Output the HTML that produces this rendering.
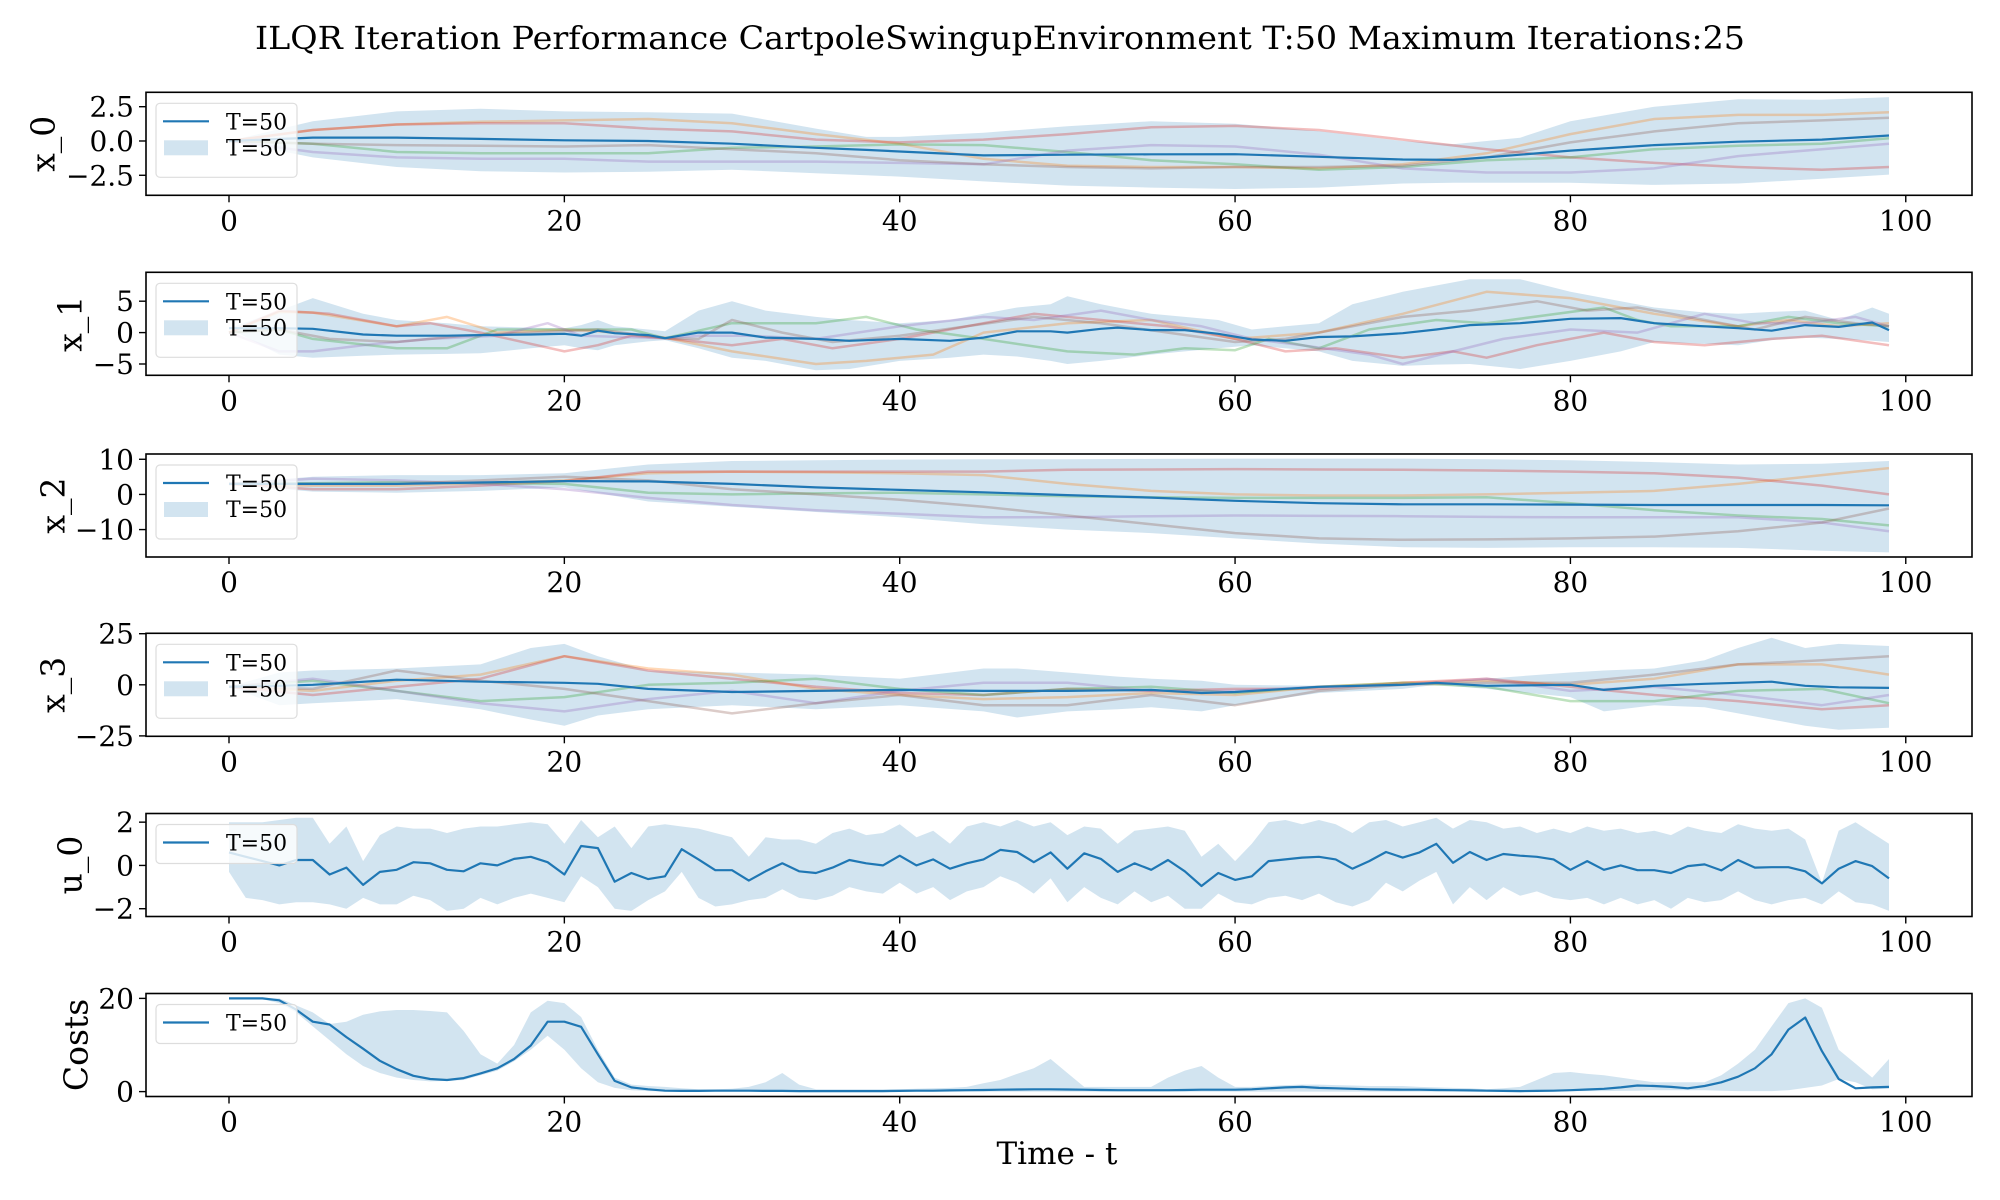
<!DOCTYPE html>
<html><head><meta charset="utf-8"><style>
html,body{margin:0;padding:0;background:#fff;}
svg{display:block;font-family:"DejaVu Serif","Liberation Serif",serif;}
</style></head><body>
<svg id="fig" width="2000" height="1200" viewBox="0 0 2000 1200" xmlns="http://www.w3.org/2000/svg">
<rect width="2000" height="1200" fill="#fff"/>
<text x="1000" y="49" text-anchor="middle" font-size="32" textLength="1490" lengthAdjust="spacingAndGlyphs">ILQR Iteration Performance CartpoleSwingupEnvironment T:50 Maximum Iterations:25</text>
<text x="1057" y="1164" text-anchor="middle" font-size="31">Time - t</text>
<g id="plots"></g>
</svg>
<script>
// ---------- data ----------
const X_TICKS = [0,20,40,60,80,100];

// x_0
const X0_T = [0,5,10,15,20,25,30,35,38,40,45,50,55,60,65,70,73,75,77,80,85,90,95,99];
const X0_MEAN = [0,0.25,0.25,0.15,0.05,0,-0.2,-0.5,-0.65,-0.77,-1.05,-1.0,-0.97,-0.96,-1.15,-1.35,-1.38,-1.2,-1.0,-0.7,-0.3,-0.05,0.1,0.4];
const X0_UP = [0,1.44,2.16,2.35,2.16,2.1,2.0,0.9,0.3,0.3,0.6,1.08,1.44,1.25,0.72,0,-0.24,0,0.24,1.44,2.5,3.05,3.0,3.2];
const X0_LO = [0,-1.2,-1.9,-2.2,-2.3,-2.25,-2.1,-2.35,-2.5,-2.6,-2.95,-3.25,-3.4,-3.5,-3.4,-3.1,-3.05,-3.05,-3.05,-3.05,-3.2,-3.1,-2.75,-2.45];
const X0_TICKS = [2.5,0,-2.5];
const X0_TF = [0,5,10,15,20,25,30,35,40,45,50,55,60,65,70,75,80,85,90,95,99];
const X0_F1 = [0,0.8,1.2,1.4,1.5,1.6,1.3,0.5,-0.2,-1.3,-1.8,-1.9,-1.9,-2.0,-1.7,-0.9,0.5,1.6,1.9,1.9,2.1];
const X0_F2 = [0,0.8,1.2,1.3,1.3,0.9,0.7,0.1,-0.1,0.1,0.5,1.0,1.1,0.8,0.1,-0.6,-1.2,-1.6,-1.9,-2.1,-1.9];
const X0_F3 = [0,-0.2,-0.8,-0.9,-0.9,-0.9,-0.5,-0.4,-0.25,-0.3,-0.8,-1.4,-1.7,-2.1,-1.9,-1.4,-1.2,-0.6,-0.35,-0.2,0.2];
const X0_F4 = [0,-0.8,-1.2,-1.3,-1.3,-1.5,-1.5,-1.5,-1.6,-1.7,-0.7,-0.3,-0.4,-1.0,-2.0,-2.3,-2.3,-2.0,-1.1,-0.6,-0.2];
const X0_F5 = [0,-0.2,-0.3,-0.35,-0.4,-0.3,-0.6,-0.9,-1.4,-1.7,-1.9,-2.0,-1.9,-1.9,-1.8,-1.2,-0.1,0.7,1.3,1.5,1.7];

// x_1
const X1_T = [0,3,5,8,10,13,15,18,20,21,22,23,25,26,28,30,32,35,37,40,43,45,47,49,50,52,53,55,57,59,61,63,65,67,70,72,74,77,80,83,85,88,90,92,94,96,98,99];
const X1_MEAN = [0.7,0.7,0.6,-0.3,-0.5,-0.5,-0.4,-0.3,-0.2,-0.5,0.3,-0.1,-0.4,-0.9,0,0,-0.8,-1.0,-1.3,-1.0,-1.3,-0.8,0.2,0.2,0,0.6,0.8,0.4,0.4,-0.2,-1.1,-1.3,-0.7,-0.6,-0.1,0.5,1.2,1.5,2.2,2.3,1.5,1.0,0.7,0.3,1.2,0.9,1.6,0.4];
const X1_UP = [0.7,3.5,5.5,3.0,2.0,1.5,1.0,0.8,0.7,1.2,2.0,1.0,0.5,0.2,3.5,5.0,3.5,2.5,2.0,1.5,2.0,3.0,4.0,4.5,5.8,4.5,4.0,3.0,2.5,2.0,0.5,1.0,1.5,4.5,6.5,7.5,8.5,8.5,6.5,5.0,4.0,3.2,3.0,3.3,3.5,2.0,4.0,3.0];
const X1_LO = [0.7,-3.5,-4.0,-3.7,-3.5,-3.4,-3.3,-2.5,-2.0,-2.5,-2.8,-2.0,-1.4,-1.2,-2.5,-4.0,-4.5,-6.0,-5.8,-4.5,-4.0,-3.5,-3.8,-4.5,-5.0,-4.5,-4.2,-3.5,-3.0,-2.5,-2.0,-2.5,-3.0,-4.5,-5.3,-5.1,-5.0,-5.8,-4.5,-3.0,-1.5,-1.8,-2.0,-1.2,-0.8,-1.0,-1.3,-1.5];
const X1_TICKS = [5,0,-5];
const X1_TF1 = [0,3,5,10,13,16,20,22,26,30,35,38,42,45,50,55,60,65,70,75,80,85,90,93,96,99];
const X1_F1 = [0,3.3,3.2,1.0,2.5,0,0.5,0.2,-0.8,-3.0,-5.0,-4.5,-3.5,0,1.5,2.0,-1.0,0,3.0,6.5,5.5,3.0,1.0,2.0,1.0,1.5];
const X1_TF2 = [0,3,6,10,12,15,20,22,24,26,30,33,36,40,45,48,52,56,60,63,66,70,73,75,78,82,85,88,92,95,99];
const X1_F2 = [0,3.5,3.0,1.0,1.5,0,-3.0,-2.0,-0.5,-0.9,-2.0,-1.0,-2.5,-1.0,1.5,3.0,2.0,1.0,-1.0,-3.0,-2.5,-4.0,-3.0,-4.0,-2.0,0,-1.5,-2.0,-1.0,-0.5,-2.0];
const X1_TF3 = [0,3,5,10,13,16,20,24,26,30,35,38,41,45,50,54,57,60,62,65,68,72,75,82,84,86,90,93,96,99];
const X1_F3 = [0,0.5,-1.0,-2.5,-2.5,0.5,0.5,0.5,-0.9,1.5,1.5,2.5,0.5,-1.0,-3.0,-3.5,-2.5,-2.8,-1.0,-2.5,0.5,2.0,1.5,4.0,2.0,1.0,1.0,2.5,1.5,1.0];
const X1_TF4 = [0,3,5,8,12,16,19,21,26,28,31,35,40,45,48,52,55,58,61,64,68,70,73,76,80,84,88,91,94,97,99];
const X1_F4 = [0,-3.0,-3.0,-2.0,-1.0,-0.5,1.5,-0.5,-0.9,-0.5,-0.5,-1.0,1.0,2.5,2.0,3.5,2.0,1.0,-1.0,-2.0,-3.5,-5.0,-3.0,-1.0,0.5,0,3.0,1.5,1.5,2.5,1.0];
const X1_TF5 = [0,3,6,10,14,18,22,26,28,30,33,36,40,44,48,52,56,60,63,67,70,74,78,81,84,88,91,94,97,99];
const X1_F5 = [0,0.5,-1.0,-1.5,-0.5,0,0.5,-0.9,-1.0,2.0,0,-1.5,-0.5,1.0,2.5,1.5,0,-1.5,-1.0,1.0,2.5,3.5,5.0,3.5,4.0,2.0,0.5,2.5,1.5,1.0];

// x_2
const X2_T = [0,5,10,15,20,25,30,35,40,45,50,55,60,65,70,75,80,85,90,95,99];
const X2_MEAN = [3,3,3.0,3.4,3.8,3.7,3.0,2.0,1.3,0.6,-0.2,-0.9,-1.8,-2.5,-2.8,-2.8,-2.9,-3.0,-3.0,-3.0,-3.1];
const X2_UP = [3.2,5.0,5.5,5.5,6.0,8.5,9.5,9.7,9.9,10.0,10.0,10.1,10.2,10.2,10.2,10.0,9.7,9.2,8.5,8.7,9.5];
const X2_LO = [2.8,0.8,0.5,1.0,2.0,-2.0,-3.5,-5.0,-6.5,-8.5,-10,-11,-12.5,-14,-15,-15.2,-15,-15,-15.2,-16,-16.5];
const X2_TICKS = [10,0,-10];
const X2_F1 = [3,2.5,2.5,3.2,4,6.0,6.5,6.3,6.0,5.5,3.0,1.0,0,-0.3,-0.3,0,0.5,1.0,3.0,5.5,7.5];
const X2_F2 = [3,1.5,1.5,2.5,3.8,6.5,6.5,6.5,6.5,6.5,7.0,7.1,7.2,7.1,7.0,6.8,6.5,6.0,4.8,2.5,0];
const X2_F3 = [3,3.2,3.5,3.2,3.0,0.5,0,0.3,0.5,0,-0.5,-0.8,-1.0,-1.0,-1.0,-0.8,-2.5,-4.5,-6.0,-7.0,-8.8];
const X2_F4 = [3,4.5,4.0,3.0,1.5,-1.0,-3.0,-4.5,-5.5,-6.5,-6.5,-6.2,-6.0,-6.1,-6.2,-6.4,-6.5,-6.5,-6.5,-8.0,-10.5];
const X2_F5 = [3,3,3.0,4.0,5.0,4.0,1.5,0,-1.5,-3.5,-6.0,-8.5,-11.0,-12.5,-12.9,-12.8,-12.5,-12.0,-10.5,-8.0,-4.0];

// x_3
const X3_T = [0,3,5,10,15,18,20,22,25,30,35,40,45,47,50,53,55,58,60,65,70,72,75,80,82,85,88,90,92,94,96,99];
const X3_MEAN = [-1,-0.5,0,2.5,1.5,1.2,1.0,0.5,-2,-3.5,-3,-2.5,-3,-3,-3.0,-2.7,-2.5,-4.0,-3.5,-1,0,1,-0.5,0,-2.5,-0.5,0.5,1.0,1.5,-0.5,-1.2,-1.5];
const X3_UP = [-1,6,7,8,10,18,20,14,7,6,5,3,8,8,6,4,3,2,0,-0.5,0.5,1,3,6,7,8,12,18,23,18,20,19];
const X3_LO = [-1,-10,-9,-7,-12,-17,-20,-15,-12,-10,-12,-10,-13,-16,-13,-12,-11,-13,-10,-4,-2,0,-2,-6,-13,-10,-11,-14,-17,-20,-22,-21];
const X3_TICKS = [25,0,-25];
const X3_TF = [0,5,10,15,20,25,30,35,40,45,50,55,60,65,70,75,80,85,90,95,99];
const X3_F1 = [-1,-3,2,5,14,8,5,-2,-5,-7,-6,-4,-5,-1,1,2,0,3,10,10,5];
const X3_F2 = [-1,-5,-1,3,14,7,3,-1,-4,-5,-2,-3,-2,-2,1,3,-1,-5,-8,-12,-10];
const X3_F3 = [-1,2,-3,-8,-6,0,1,3,-2,-5,-2,-1,-4,-1,1,-1,-8,-8,-3,-2,-9];
const X3_F4 = [-1,3,-3,-9,-13,-7,-3,-9,-3,1,1,-3,-3,-1,0,3,-3,-1,-5,-10,-5];
const X3_F5 = [-1,-2,7,2,-2,-8,-14,-9,-5,-10,-10,-5,-10,-3,0,1,1,5,10,12,14];

// u_0
const U0_MEAN = [0.6,0.4,0.2,0.0,0.25,0.25,-0.42,-0.1,-0.9,-0.3,-0.2,0.15,0.1,-0.2,-0.27,0.1,0,0.3,0.4,0.15,-0.42,0.9,0.8,-0.75,-0.35,-0.63,-0.5,0.75,0.28,-0.22,-0.22,-0.7,-0.27,0.1,-0.27,-0.35,-0.1,0.25,0.1,0,0.45,0,0.28,-0.15,0.1,0.28,0.72,0.62,0.15,0.6,-0.15,0.56,0.3,-0.3,0.1,-0.2,0.25,-0.27,-0.95,-0.35,-0.67,-0.5,0.2,0.28,0.36,0.4,0.28,-0.15,0.2,0.62,0.36,0.6,1.0,0.12,0.62,0.25,0.53,0.45,0.4,0.28,-0.2,0.2,-0.2,0,-0.22,-0.22,-0.35,-0.03,0.05,-0.23,0.25,-0.1,-0.08,-0.08,-0.27,-0.83,-0.15,0.2,-0.03,-0.6];
const U0_UP = [2.0,2.0,2.0,2.1,2.2,2.2,1.0,1.8,0.2,1.4,1.8,1.7,1.7,1.5,1.7,1.8,1.8,1.9,2.0,1.9,1.0,2.1,1.3,1.8,0.8,1.8,1.9,1.8,1.7,1.5,1.3,0.4,1.3,1.2,1.2,1.0,1.5,1.7,1.4,1.5,1.9,1.3,1.6,1.0,1.8,2.0,1.8,2.1,1.8,2.0,1.4,1.8,1.7,1.0,1.6,1.7,1.8,1.6,0.4,1.0,0.2,1.0,2.0,2.1,1.9,2.1,1.9,1.5,2.0,2.1,1.8,2.0,2.2,1.7,2.1,2.0,1.7,1.8,1.5,1.7,1.5,1.8,1.6,1.7,1.5,1.6,1.4,1.8,1.6,1.5,1.9,1.7,1.6,1.7,1.2,-0.8,1.6,2.0,1.5,1.0];
const U0_LO = [-0.3,-1.5,-1.6,-1.8,-1.7,-1.7,-1.8,-2.0,-1.5,-1.8,-1.8,-1.4,-1.6,-2.1,-2.0,-1.5,-1.8,-1.5,-1.3,-1.5,-1.7,-0.5,-1.0,-2.0,-2.1,-1.6,-1.2,-0.3,-1.5,-1.9,-1.8,-1.6,-1.5,-1.1,-1.5,-1.6,-1.4,-1.0,-1.2,-1.3,-0.8,-1.3,-1.0,-1.6,-1.2,-1.0,-0.5,-0.8,-1.3,-0.6,-1.7,-1.0,-1.5,-1.8,-1.2,-1.7,-1.4,-2.0,-2.0,-1.3,-1.7,-1.8,-1.5,-1.4,-1.6,-1.3,-1.7,-1.9,-1.6,-0.8,-1.2,-0.7,-0.3,-1.8,-1.0,-1.6,-1.0,-1.4,-1.2,-1.5,-1.6,-1.5,-1.8,-1.5,-1.8,-1.6,-2.0,-1.5,-1.7,-1.6,-1.2,-1.6,-1.8,-1.6,-1.5,-1.8,-1.2,-1.7,-1.8,-2.1];
const U0_TICKS = [2,0,-2];

// costs
const C_MEAN = [20,20,20,19.6,17.6,15,14.4,11.7,9.2,6.6,4.8,3.4,2.7,2.5,2.9,3.9,5,7,9.9,15,15,13.9,8,2.3,0.9,0.5,0.2,0.15,0.15,0.2,0.2,0.2,0.15,0.15,0.1,0.1,0.1,0.1,0.1,0.1,0.15,0.2,0.2,0.25,0.3,0.35,0.4,0.45,0.5,0.5,0.45,0.4,0.35,0.3,0.3,0.3,0.3,0.35,0.4,0.4,0.4,0.5,0.7,0.9,1.0,0.8,0.7,0.6,0.5,0.45,0.4,0.4,0.35,0.3,0.25,0.2,0.15,0.1,0.15,0.2,0.3,0.45,0.6,0.9,1.3,1.2,1.0,0.7,1.2,2.0,3.2,5.0,8.0,13.3,15.9,8.7,2.7,0.7,0.9,1.0];
const C_UP = [20,20,20,20,18.5,17,14.5,15,16.5,17.2,17.5,17.5,17.3,17,13,8,6,10,17,19.5,19,16,9,3,1.5,1.2,1.0,0.7,0.5,0.5,0.6,1.0,2.0,4.0,1.5,0.5,0.5,0.5,0.5,0.5,0.5,0.6,0.7,0.8,1.0,1.8,2.5,3.8,5.0,7.0,4.0,1.0,1.0,1.0,1.0,1.0,3.0,4.5,5.5,3.0,1.0,1.0,1.2,1.4,1.5,1.5,1.4,1.3,1.2,1.2,1.2,1.0,0.9,0.8,0.7,0.5,0.7,1.0,2.5,4.0,4.2,3.8,3.5,3.0,2.5,2.0,2.0,2.0,2.0,3.5,6.0,9.0,14.0,19.0,20.0,18.0,9.0,6.0,3.0,7.0];
const C_LO = [20,20,19.8,19,17,14,11,8,5.5,4,3,2.5,2.2,2.3,2.5,3.5,4.5,6.5,9,12,9,5,2,0.8,0.3,0.1,0.05,0,0,0,0,0,0,0,0,0,0,0,0,0,0,0,0,0,0,0,0,0,0,0,0,0,0,0,0,0,0,0,0,0,0,0,0,0,0,0,0,0,0,0,0,0,0,0,0,0,0,0,0,0,0.1,0.1,0.1,0.15,0.2,0.3,0.3,0.3,0.3,0.2,0.1,0.1,0.1,0.3,0.8,1.3,2.7,2.0,0.5,0.6];
const C_TICKS = [20,0];

// ---------- drawing ----------
const NS = 'http://www.w3.org/2000/svg';
const AX_L = 146, AX_R = 1972, AX_H = 103;
const XMIN = -4.95, XMAX = 103.95;
const FAINT_COLORS = ['#ff7f0e','#d62728','#2ca02c','#9467bd','#8c564b'];
function xScale(t){ return AX_L + (t - XMIN) / (XMAX - XMIN) * (AX_R - AX_L); }
function seq(n){ const a=[]; for(let i=0;i<n;i++) a.push(i); return a; }
function mk(tag, attrs, parent){ const e=document.createElementNS(NS,tag); for(const k in attrs) e.setAttribute(k,attrs[k]); parent.appendChild(e); return e; }

const T100 = seq(100);
const panels = [
  {key:'x-0', label:'x_0', top:92.3, ymin:-3.96, ymax:3.55, ticks:X0_TICKS, tickLabels:['2.5','0.0','\u22122.5'], lx:43,
   t:X0_T, mean:X0_MEAN, up:X0_UP, lo:X0_LO, faint:[[X0_TF,X0_F1],[X0_TF,X0_F2],[X0_TF,X0_F3],[X0_TF,X0_F4],[X0_TF,X0_F5]], band:true},
  {key:'x-1', label:'x_1', top:272.3, ymin:-6.8, ymax:9.6, ticks:X1_TICKS, tickLabels:['5','0','\u22125'], lx:70,
   t:X1_T, mean:X1_MEAN, up:X1_UP, lo:X1_LO, faint:[[X1_TF1,X1_F1],[X1_TF2,X1_F2],[X1_TF3,X1_F3],[X1_TF4,X1_F4],[X1_TF5,X1_F5]], band:true},
  {key:'x-2', label:'x_2', top:454, ymin:-17.8, ymax:11.5, ticks:X2_TICKS, tickLabels:['10','0','\u221210'], lx:53,
   t:X2_T, mean:X2_MEAN, up:X2_UP, lo:X2_LO, faint:[[X2_T,X2_F1],[X2_T,X2_F2],[X2_T,X2_F3],[X2_T,X2_F4],[X2_T,X2_F5]], band:true},
  {key:'x-3', label:'x_3', top:633.3, ymin:-25.2, ymax:25.2, ticks:X3_TICKS, tickLabels:['25','0','\u221225'], lx:53,
   t:X3_T, mean:X3_MEAN, up:X3_UP, lo:X3_LO, faint:[[X3_TF,X3_F1],[X3_TF,X3_F2],[X3_TF,X3_F3],[X3_TF,X3_F4],[X3_TF,X3_F5]], band:true},
  {key:'u-0', label:'u_0', top:813.5, ymin:-2.36, ymax:2.4, ticks:U0_TICKS, tickLabels:['2','0','\u22122'], lx:70,
   t:T100, mean:U0_MEAN, up:U0_UP, lo:U0_LO, faint:[], band:false},
  {key:'costs', label:'Costs', top:993.5, ymin:-1.05, ymax:21.05, ticks:C_TICKS, tickLabels:['20','0'], lx:76,
   t:T100, mean:C_MEAN, up:C_UP, lo:C_LO, faint:[], band:false}
];

const root = document.getElementById('plots');
panels.forEach(p => {
  const g = mk('g', {}, root);
  
  
  const yS = v => p.top + AX_H - (v - p.ymin) / (p.ymax - p.ymin) * AX_H;
  const clipId = 'clip-' + p.key;
  const cp = mk('clipPath', {id:clipId}, g);
  mk('rect', {x:AX_L, y:p.top, width:AX_R-AX_L, height:AX_H}, cp);
  const plot = mk('g', {'clip-path':'url(#'+clipId+')'}, g);

  let d = '';
  p.t.forEach((t,i) => { d += (i?'L':'M') + xScale(t).toFixed(1) + ',' + yS(p.up[i]).toFixed(1); });
  for (let i = p.t.length-1; i >= 0; i--) d += 'L' + xScale(p.t[i]).toFixed(1) + ',' + yS(p.lo[i]).toFixed(1);
  const band = mk('path', {d:d+'Z', fill:'#1f77b4', 'fill-opacity':'0.2', stroke:'none'}, plot);
  
  

  p.faint.forEach((f, k) => {
    const pts = f[0].map((t,i) => xScale(t).toFixed(1) + ',' + yS(f[1][i]).toFixed(1)).join(' ');
    const pl = mk('polyline', {points:pts, fill:'none', stroke:FAINT_COLORS[k], 'stroke-opacity':'0.3', 'stroke-width':'2.5', 'stroke-linejoin':'round'}, plot);
    
    
  });

  const mpts = p.t.map((t,i) => xScale(t).toFixed(1) + ',' + yS(p.mean[i]).toFixed(1)).join(' ');
  const ml = mk('polyline', {points:mpts, fill:'none', stroke:'#1f77b4', 'stroke-width':'2.2', 'stroke-linejoin':'round'}, plot);
  
  

  const fr = mk('rect', {x:AX_L, y:p.top, width:AX_R-AX_L, height:AX_H, fill:'none', stroke:'#000', 'stroke-width':'1.6'}, g);
  
  

  p.ticks.forEach((v,i) => {
    const y = yS(v);
    mk('line', {x1:AX_L-7, x2:AX_L, y1:y, y2:y, stroke:'#000', 'stroke-width':'1.4'}, g);
    const tl = mk('text', {x:AX_L-12, y:y+10, 'text-anchor':'end', 'font-size':'28'}, g);
    tl.textContent = p.tickLabels[i];
    
    
  });
  X_TICKS.forEach(v => {
    const x = xScale(v), yb = p.top + AX_H;
    mk('line', {x1:x, x2:x, y1:yb, y2:yb+7, stroke:'#000', 'stroke-width':'1.4'}, g);
    const tl = mk('text', {x:x, y:yb+35, 'text-anchor':'middle', 'font-size':'28'}, g);
    tl.textContent = String(v);
    
    
  });
  const cy = p.top + AX_H/2;
  const yl = mk('text', {x:p.lx, y:cy, 'text-anchor':'middle', 'dominant-baseline':'central', 'font-size':'33', transform:'rotate(-90 '+p.lx+' '+cy+')'}, g);
  yl.textContent = p.label;
  
  

  const lg = mk('g', {}, g);
  
  
  const lh = p.band ? 74 : 39;
  mk('rect', {x:156, y:p.top+11, width:141, height:lh, rx:4, fill:'#fff', 'fill-opacity':'0.8', stroke:'#ddd', 'stroke-width':'1.2'}, lg);
  const ly1 = p.top + 29;
  mk('line', {x1:163, x2:209, y1:ly1, y2:ly1, stroke:'#1f77b4', 'stroke-width':'2.2'}, lg);
  const t1 = mk('text', {x:226, y:ly1+8, 'font-size':'22'}, lg);
  t1.textContent = 'T=50';
  
  
  if (p.band) {
    mk('rect', {x:164, y:p.top+48, width:44, height:15, fill:'#1f77b4', 'fill-opacity':'0.2'}, lg);
    const t2 = mk('text', {x:226, y:p.top+63, 'font-size':'22'}, lg);
    t2.textContent = 'T=50';
    
    
  }
});
</script>
</body></html>
